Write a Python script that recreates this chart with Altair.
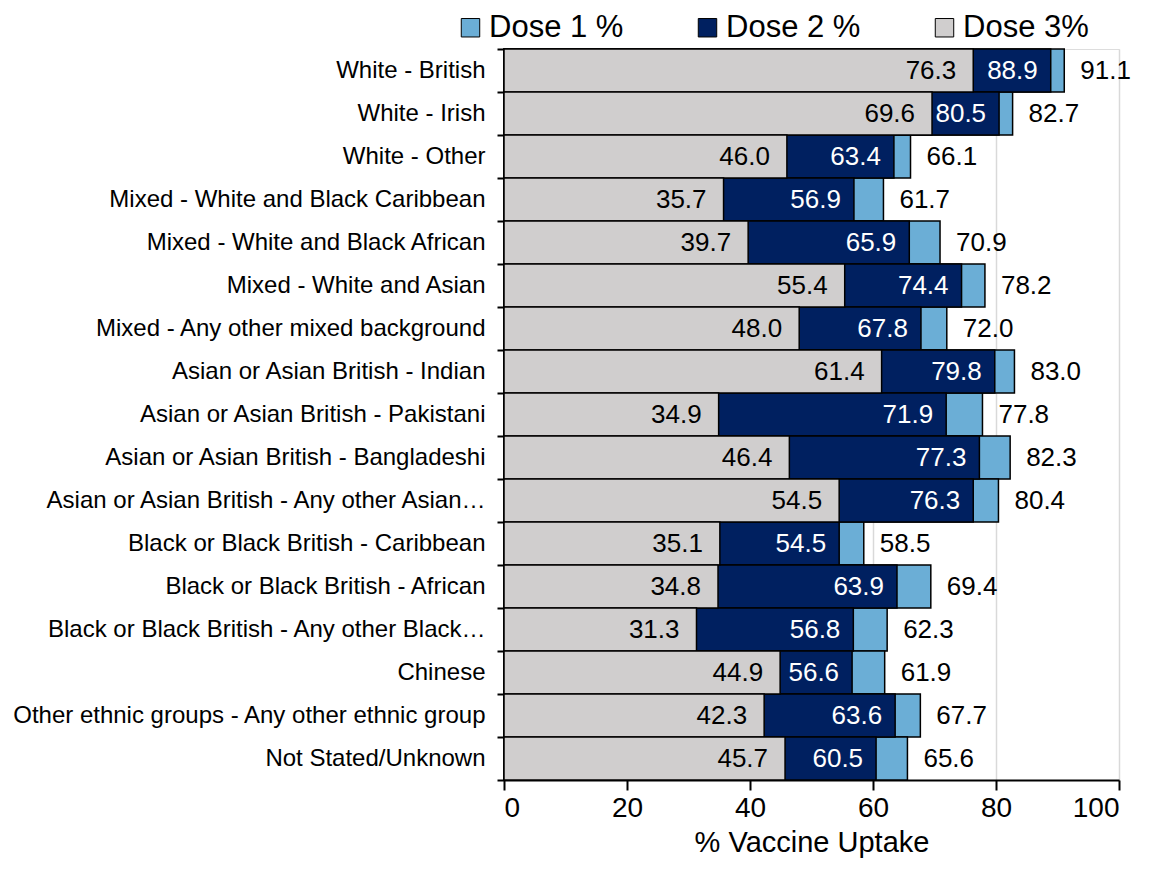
import altair as alt
import pandas as pd

categories = [
    "White - British",
    "White - Irish",
    "White - Other",
    "Mixed - White and Black Caribbean",
    "Mixed - White and Black African",
    "Mixed - White and Asian",
    "Mixed - Any other mixed background",
    "Asian or Asian British - Indian",
    "Asian or Asian British - Pakistani",
    "Asian or Asian British - Bangladeshi",
    "Asian or Asian British - Any other Asian…",
    "Black or Black British - Caribbean",
    "Black or Black British - African",
    "Black or Black British - Any other Black…",
    "Chinese",
    "Other ethnic groups - Any other ethnic group",
    "Not Stated/Unknown",
]
dose1 = [91.1, 82.7, 66.1, 61.7, 70.9, 78.2, 72.0, 83.0, 77.8, 82.3, 80.4, 58.5, 69.4, 62.3, 61.9, 67.7, 65.6]
dose2 = [88.9, 80.5, 63.4, 56.9, 65.9, 74.4, 67.8, 79.8, 71.9, 77.3, 76.3, 54.5, 63.9, 56.8, 56.6, 63.6, 60.5]
dose3 = [76.3, 69.6, 46.0, 35.7, 39.7, 55.4, 48.0, 61.4, 34.9, 46.4, 54.5, 35.1, 34.8, 31.3, 44.9, 42.3, 45.7]
series = ["Dose 1 %", "Dose 2 %", "Dose 3%"]
colors = ["#6BAED6", "#002060", "#D0CECE"]

rows = []
for s, vals in zip(series, [dose1, dose2, dose3]):
    for c, v in zip(categories, vals):
        rows.append({"cat": c, "series": s, "value": v, "label": f"{v:.1f}"})
df = pd.DataFrame(rows)

FONT = "Liberation Sans"

y_enc = alt.Y(
    "cat:N",
    sort=categories,
    scale=alt.Scale(paddingInner=0, paddingOuter=0),
    axis=alt.Axis(
        title=None, tickBand="extent", labelFontSize=24, labelColor="black",
        labelPadding=12, tickColor="black", tickSize=7, tickWidth=2,
        domainColor="black", domainWidth=2, labelLimit=700, grid=False,
        labelFont=FONT,
    ),
)
x_enc = alt.X(
    "value:Q",
    scale=alt.Scale(domain=[0, 100], nice=False),
    axis=alt.Axis(
        values=[0, 20, 40, 60, 80, 100], grid=True, gridColor="#D9D9D9",
        gridWidth=1.5, domainColor="black", domainWidth=2, tickColor="black",
        tickSize=10, tickWidth=2, labelFontSize=28, labelColor="black",
        labelPadding=4, title="% Vaccine Uptake", titleFontSize=29,
        titleFontWeight="normal", titleColor="black", titlePadding=6,
        labelFont=FONT, titleFont=FONT,
    ),
)
color_enc = alt.Color(
    "series:N",
    scale=alt.Scale(domain=series, range=colors),
    legend=alt.Legend(
        orient="none", legendX=-49, legendY=-37, direction="horizontal",
        title=None, labelFontSize=31, labelColor="black", labelFont=FONT,
        symbolType="square", symbolSize=340, symbolStrokeColor="black",
        symbolStrokeWidth=1, symbolOpacity=1, columnPadding=68, labelOffset=3,
    ),
)

base = alt.Chart(df)

def bars(s):
    return base.transform_filter(alt.datum.series == s).mark_bar(
        stroke="black", strokeWidth=1.5, opacity=1
    ).encode(x=x_enc, y=y_enc, color=color_enc)

b1 = bars("Dose 1 %")
b2 = bars("Dose 2 %")
b3 = bars("Dose 3%")

t1 = base.transform_filter(alt.datum.series == "Dose 1 %").mark_text(
    align="left", baseline="middle", dx=16, fontSize=26, color="black", font=FONT
).encode(x="value:Q", y=alt.Y("cat:N", sort=categories), text="label:N")
t2 = base.transform_filter(alt.datum.series == "Dose 2 %").mark_text(
    align="right", baseline="middle", dx=-13, fontSize=26, color="white", font=FONT
).encode(x="value:Q", y=alt.Y("cat:N", sort=categories), text="label:N")
t3 = base.transform_filter(alt.datum.series == "Dose 3%").mark_text(
    align="right", baseline="middle", dx=-17, fontSize=26, color="black", font=FONT
).encode(x="value:Q", y=alt.Y("cat:N", sort=categories), text="label:N")

chart = alt.layer(b1, b2, b3, t3, t2, t1).properties(
    width=615, height=731,
    autosize=alt.AutoSizeParams(type="none"),
    padding={"left": 496, "top": 41, "right": 25, "bottom": 80},
).configure_view(stroke=None).configure(font=FONT)

chart.save("out.html", embed_options={"renderer": "svg", "actions": False})
